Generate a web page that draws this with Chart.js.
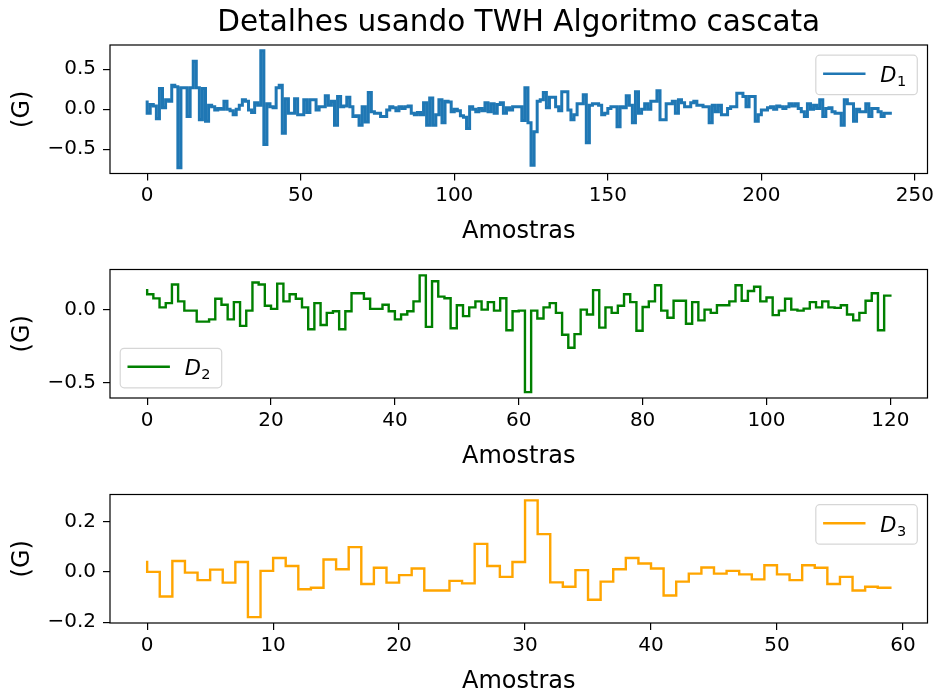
<!DOCTYPE html>
<html>
<head>
<meta charset="utf-8">
<script src="https://cdn.jsdelivr.net/npm/chart.js@4/dist/chart.umd.min.js"></script>
<style>
  html, body { margin: 0; padding: 0; background: #fff; overflow: hidden; }
  #fig { position: relative; width: 937px; height: 693px; overflow: hidden; background: #fff; }
  #fig canvas { position: absolute; left: 0; }
</style>
</head>
<body>
<div id="fig">
  <canvas id="c1" width="937" height="250" style="top:0px"></canvas>
  <canvas id="c2" width="937" height="225" style="top:250px"></canvas>
  <canvas id="c3" width="937" height="225" style="top:475px"></canvas>
</div>
<script>
// Detail coefficients of the cascade decomposition (G), one value per sample
const D1 = [
  0.09, -0.05, 0.06, 0.04, -0.12, 0.26, 0.02, 0.12, 0.10, 0.30,
  0.28, -0.73, 0.27, 0.27, -0.09, 0.27, 0.60, 0.27, -0.13, 0.26,
  -0.15, 0.05, 0.03, -0.01, 0.01, 0.00, 0.10, 0.00, -0.02, -0.07,
  0.00, 0.05, 0.12, 0.10, -0.01, -0.04, 0.08, 0.05, 0.73, -0.44,
  0.07, 0.03, 0.02, 0.27, 0.30, -0.30, 0.13, -0.05, -0.05, 0.13,
  -0.07, -0.07, 0.12, -0.04, 0.12, 0.12, -0.01, 0.03, 0.03, 0.17,
  0.05, 0.10, -0.20, 0.16, 0.03, 0.04, 0.15, 0.03, -0.09, -0.08,
  -0.20, 0.03, -0.16, 0.21, -0.03, -0.05, -0.05, -0.09, -0.09, -0.01,
  0.03, 0.02, -0.02, 0.03, 0.01, 0.03, 0.04, -0.05, -0.07, -0.04,
  -0.07, 0.08, -0.20, 0.14, -0.20, -0.07, 0.12, -0.17, 0.10, 0.09,
  -0.03, 0.00, -0.02, -0.08, -0.10, -0.24, 0.03, 0.00, -0.03, 0.01,
  -0.02, 0.08, -0.03, 0.07, -0.05, 0.06, 0.08, -0.05, 0.02, -0.01,
  0.03, 0.03, 0.03, -0.14, 0.27, -0.17, -0.70, -0.28, 0.10, 0.12,
  0.21, 0.02, 0.15, 0.15, 0.03, -0.02, 0.22, 0.22, -0.01, -0.13,
  -0.07, 0.07, 0.07, 0.18, -0.42, 0.05, 0.07, 0.07, 0.05, -0.07,
  -0.05, 0.01, 0.03, 0.03, -0.22, 0.03, 0.02, 0.17, 0.05, -0.17,
  0.22, -0.05, 0.00, 0.07, 0.00, 0.10, 0.10, 0.23, -0.13, -0.13,
  0.07, 0.07, 0.10, -0.05, 0.12, 0.08, 0.03, 0.03, 0.08, 0.10,
  0.05, 0.05, 0.03, 0.03, -0.17, 0.05, -0.03, 0.05, -0.07, -0.07,
  0.01, 0.03, 0.03, 0.20, 0.20, 0.16, 0.03, 0.16, 0.16, -0.15,
  -0.07, -0.01, -0.01, 0.02, 0.03, 0.00, 0.04, 0.03, 0.01, 0.03,
  0.07, 0.04, 0.07, 0.01, -0.03, -0.09, 0.07, 0.00, 0.05, 0.01,
  0.12, -0.09, 0.01, 0.02, -0.03, -0.05, -0.05, -0.20, 0.12, 0.07,
  0.07, -0.15, 0.00, -0.03, -0.03, 0.07, -0.09, 0.01, 0.01, -0.03,
  -0.09, -0.05, -0.05
];

const D2 = [
  0.137, 0.108, 0.080, 0.018, 0.047, 0.176, 0.059, -0.005, -0.005, -0.081,
  -0.081, -0.065, 0.077, 0.036, -0.065, 0.054, -0.110, -0.005, 0.190, 0.176,
  0.029, 0.007, 0.182, 0.059, 0.108, 0.077, 0.018, -0.133, 0.047, -0.104,
  -0.020, -0.009, -0.133, -0.009, 0.115, 0.115, 0.077, 0.007, 0.007, 0.036,
  -0.009, -0.065, -0.032, -0.009, 0.059, 0.239, -0.117, 0.198, 0.092, 0.081,
  -0.126, 0.032, -0.043, 0.018, 0.059, 0.002, 0.054, -0.005, 0.081, -0.140,
  -0.009, -0.005, -0.568, -0.005, -0.059, 0.018, 0.047, -0.020, -0.171, -0.261,
  -0.167, 0.002, -0.032, 0.137, -0.122, 0.018, -0.020, 0.029, 0.108, 0.054,
  -0.144, 0.020, 0.059, 0.171, -0.005, -0.054, 0.063, 0.063, -0.095, 0.054,
  -0.072, 0.002, -0.020, 0.032, 0.032, 0.059, 0.171, 0.063, 0.131, 0.160,
  0.059, 0.086, -0.036, -0.005, 0.077, 0.002, -0.005, 0.009, 0.054, 0.018,
  0.059, 0.018, 0.014, 0.032, -0.032, -0.072, -0.020, 0.063, 0.115, -0.140,
  0.099
];

const D3 = [
  0.039, 0.000, -0.098, 0.043, -0.003, -0.033, 0.009, -0.043, 0.039, -0.180,
  0.004, 0.055, 0.023, -0.069, -0.063, 0.049, 0.010, 0.098, -0.048, 0.016,
  -0.043, -0.013, 0.013, -0.074, -0.074, -0.036, -0.046, 0.111, 0.023, -0.020,
  0.039, 0.284, 0.150, -0.042, -0.059, 0.007, -0.111, -0.039, 0.010, 0.055,
  0.033, 0.013, -0.094, -0.039, -0.007, 0.017, -0.007, 0.004, -0.010, -0.030,
  0.026, -0.010, -0.033, 0.026, 0.016, -0.048, -0.020, -0.074, -0.059, -0.063
];

// Tick positions of each panel
const xTicks1 = [0, 50, 100, 150, 200, 250];
const xTicks2 = [0, 20, 40, 60, 80, 100, 120];
const xTicks3 = [0, 10, 20, 30, 40, 50, 60];
const yTicks1 = [-0.5, 0, 0.5];
const yTicks2 = [-0.5, 0];
const yTicks3 = [-0.2, 0, 0.2];

const FIG_W = 937;
const AX_LEFT = 110;
const AX_RIGHT = 927.5;
const FONT = "'DejaVu Sans', sans-serif";

Chart.defaults.font.family = FONT;
Chart.defaults.color = '#000';

function fmtY(v) {
  const s = Math.abs(v) < 1e-9 ? '0.0' : v.toFixed(1);
  return s.replace('-', '\u2212');
}

// Inset legend box with a line handle and "D<sub>" label
function drawLegend(ctx, a, lg) {
  const w = 101.5, h = 39.5, gap = 10.2, r = 4;
  const x = lg.loc === 'ur' ? a.right - gap - w : a.left + gap;
  const y = lg.loc === 'ur' ? a.top + gap : a.bottom - gap - h;
  ctx.save();
  ctx.beginPath();
  ctx.moveTo(x + r, y);
  ctx.lineTo(x + w - r, y);
  ctx.arcTo(x + w, y, x + w, y + r, r);
  ctx.lineTo(x + w, y + h - r);
  ctx.arcTo(x + w, y + h, x + w - r, y + h, r);
  ctx.lineTo(x + r, y + h);
  ctx.arcTo(x, y + h, x, y + h - r, r);
  ctx.lineTo(x, y + r);
  ctx.arcTo(x, y, x + r, y, r);
  ctx.closePath();
  ctx.fillStyle = 'rgba(255,255,255,0.8)';
  ctx.fill();
  ctx.strokeStyle = 'rgba(204,204,204,0.8)';
  ctx.lineWidth = 1.2;
  ctx.stroke();

  ctx.beginPath();
  ctx.strokeStyle = lg.color;
  ctx.lineWidth = 2.4;
  ctx.lineCap = 'square';
  ctx.moveTo(x + 8.5, y + 18.5);
  ctx.lineTo(x + 48.5, y + 18.5);
  ctx.stroke();

  ctx.fillStyle = '#000';
  ctx.textAlign = 'left';
  ctx.textBaseline = 'alphabetic';
  ctx.font = 'italic 21px ' + FONT;
  const tx = x + 64.5, ty = y + 27;
  ctx.fillText(lg.name, tx, ty);
  const dw = ctx.measureText(lg.name).width;
  ctx.font = '14.5px ' + FONT;
  ctx.fillText(lg.sub, tx + dw + 0.5, ty + 4);
  ctx.restore();
}

function gridOpts() {
  return {
    display: true,
    drawOnChartArea: false,
    drawTicks: true,
    tickLength: 7,
    tickWidth: 1.2,
    tickColor: '#000',
    color: '#000',
    lineWidth: 1.2
  };
}

function panel(cfg) {
  const values = cfg.values;
  const n = values.length - 1;
  const lo = Math.min(...values), hi = Math.max(...values);
  const m = (hi - lo) * 0.05;
  const xTitlePad = cfg.xAxisHeight - 14.4 - 58.5;

  const frame = {
    id: 'frame_' + cfg.id,
    afterDatasetsDraw(chart) {
      const { ctx, chartArea: a } = chart;
      ctx.save();
      ctx.strokeStyle = '#000';
      ctx.lineWidth = 1.2;
      ctx.strokeRect(a.left, a.top, a.right - a.left, a.bottom - a.top);
      ctx.restore();
      drawLegend(ctx, a, cfg.legend);
    }
  };

  return new Chart(document.getElementById(cfg.id), {
    type: 'line',
    data: {
      datasets: [{
        data: values.map((v, i) => ({ x: i, y: v })),
        borderColor: cfg.color,
        borderWidth: cfg.lineWidth,
        pointRadius: 0,
        stepped: 'after',
        fill: false,
        tension: 0,
        borderJoinStyle: 'miter',
        borderCapStyle: 'square'
      }]
    },
    options: {
      responsive: false,
      animation: false,
      devicePixelRatio: 1,
      layout: { padding: { left: 0, right: FIG_W - AX_RIGHT, top: cfg.padTop, bottom: 0 } },
      plugins: {
        legend: { display: false },
        tooltip: { enabled: false },
        title: cfg.title ? {
          display: true,
          text: cfg.title,
          fullSize: false,
          color: '#000',
          font: { family: FONT, size: 29.5, weight: 'normal', lineHeight: 1.2 },
          padding: { top: 5.5, bottom: 4.1 }
        } : { display: false }
      },
      scales: {
        x: {
          type: 'linear',
          position: 'bottom',
          min: -0.05 * n,
          max: 1.05 * n,
          afterBuildTicks: s => { s.ticks = cfg.xTicks.map(v => ({ value: v })); },
          afterFit: s => { s.height = cfg.xAxisHeight; s.paddingLeft = 0; s.paddingRight = 0; },
          ticks: { autoSkip: false, maxRotation: 0, padding: 3.5, font: { size: 20 }, color: '#000', callback: v => String(v) },
          grid: gridOpts(),
          border: { display: false },
          title: { display: true, text: 'Amostras', color: '#000', font: { size: 24, lineHeight: 1.2 }, padding: { top: 0, bottom: xTitlePad } }
        },
        y: {
          type: 'linear',
          position: 'left',
          min: lo - m,
          max: hi + m,
          afterBuildTicks: s => { s.ticks = cfg.yTicks.map(v => ({ value: v })); },
          afterFit: s => { s.width = AX_LEFT; s.paddingTop = 0; s.paddingBottom = 0; },
          ticks: { padding: 7, font: { size: 20 }, color: '#000', callback: v => fmtY(v) },
          grid: gridOpts(),
          border: { display: false },
          title: { display: true, text: '(G)', color: '#000', font: { size: 24, lineHeight: 1.2 }, padding: { top: 8.5, bottom: 0 } }
        }
      }
    },
    plugins: [frame]
  });
}

panel({
  id: 'c1', values: D1, color: '#1f77b4', lineWidth: 3.0, xTicks: xTicks1, yTicks: yTicks1,
  title: 'Detalhes usando TWH Algoritmo cascata', padTop: 0, xAxisHeight: 76.5,
  legend: { loc: 'ur', color: '#1f77b4', name: 'D', sub: '1' }
});
panel({
  id: 'c2', values: D2, color: '#008000', lineWidth: 2.4, xTicks: xTicks2, yTicks: yTicks2,
  padTop: 19.5, xAxisHeight: 77,
  legend: { loc: 'll', color: '#008000', name: 'D', sub: '2' }
});
panel({
  id: 'c3', values: D3, color: '#ffa500', lineWidth: 2.4, xTicks: xTicks3, yTicks: yTicks3,
  padTop: 19.5, xAxisHeight: 77,
  legend: { loc: 'ur', color: '#ffa500', name: 'D', sub: '3' }
});
</script>
</body>
</html>
